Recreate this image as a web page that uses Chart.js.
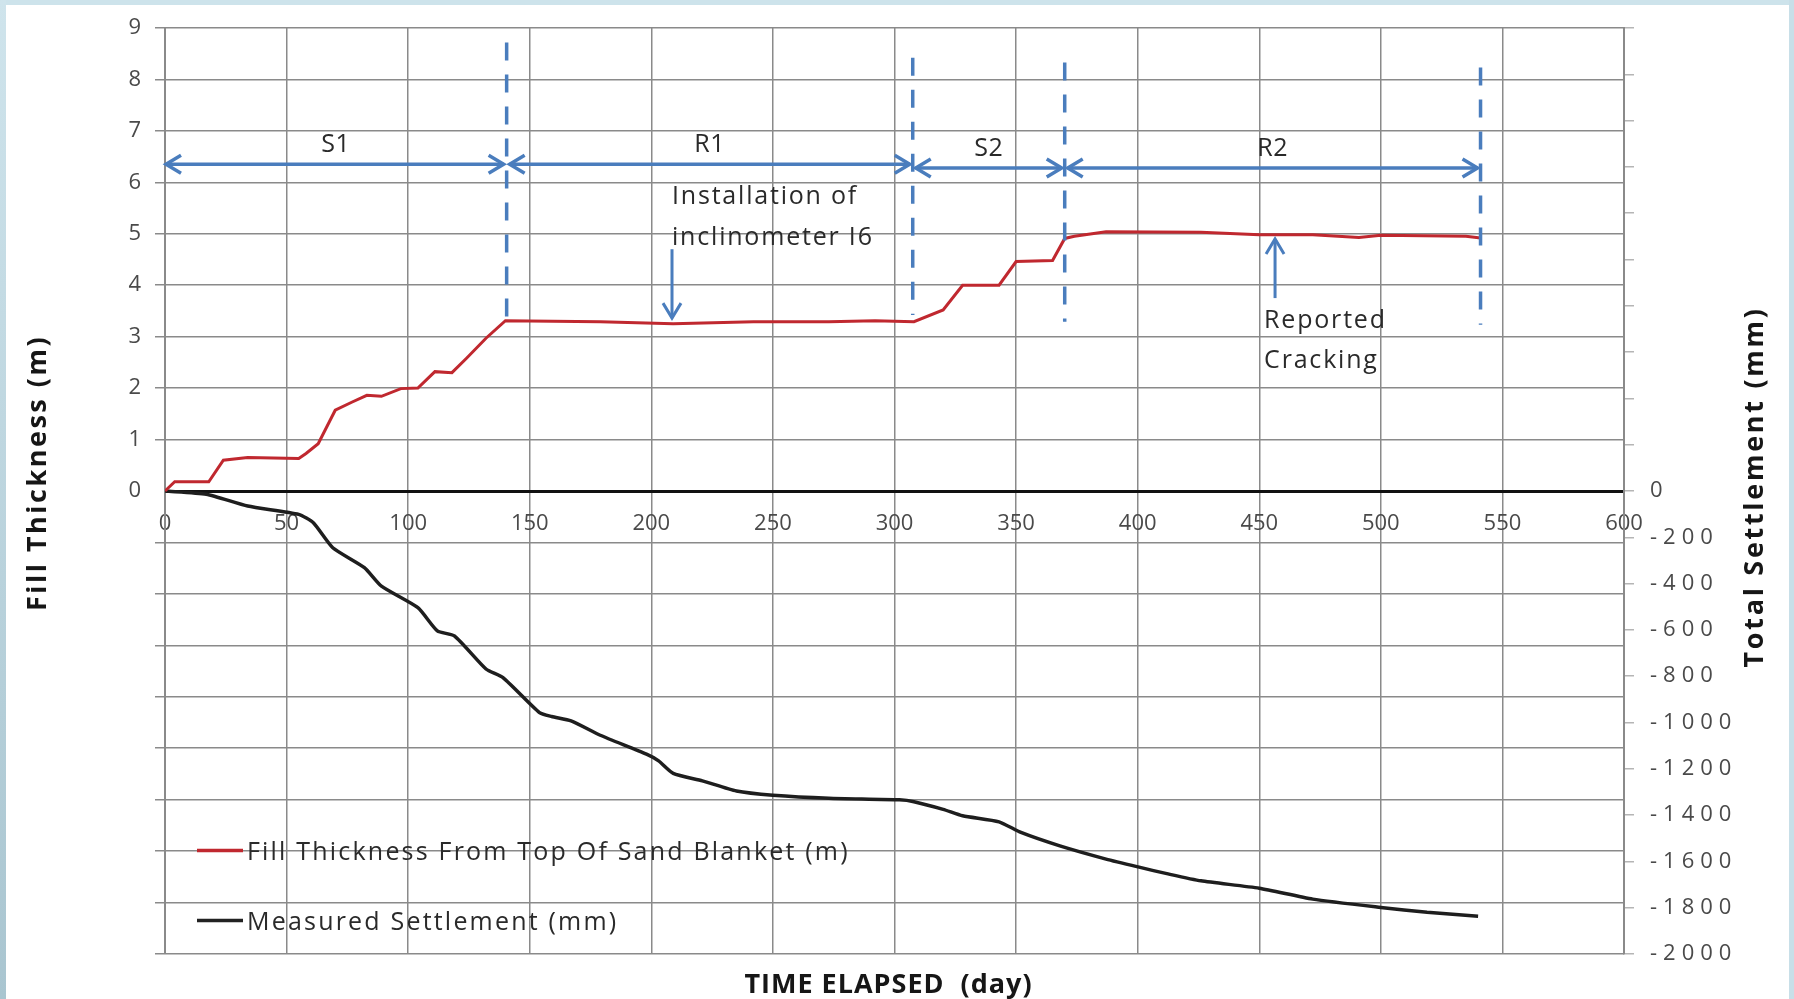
<!DOCTYPE html>
<html>
<head>
<meta charset="utf-8">
<title>Fill thickness and settlement vs time</title>
<script src="https://cdn.jsdelivr.net/npm/chart.js@4.4.1/dist/chart.umd.min.js"></script>
<style>
  html, body { margin: 0; padding: 0; background: #ffffff; }
  canvas { display: block; }
</style>
</head>
<body>
<canvas id="chart" width="1794" height="999"></canvas>
<script>
// Fill thickness above the sand blanket (m) against elapsed day
const fillDays = [0, 4, 18, 24, 34, 55, 58, 63, 70, 77, 83, 89, 97, 104, 111, 118, 124, 132, 140, 179,
                  209, 242, 273, 292, 308, 320, 328, 343, 350, 365, 370, 374, 387, 426, 450, 472, 491, 500, 535, 541];
const fillThickness = [0, 0.18, 0.18, 0.6, 0.65, 0.63, 0.73, 0.92, 1.57, 1.73, 1.86, 1.84, 1.99, 2.0, 2.32, 2.3, 2.58, 2.97, 3.31, 3.29,
                       3.25, 3.29, 3.29, 3.31, 3.29, 3.52, 4.0, 4.0, 4.46, 4.48, 4.91, 4.95, 5.04, 5.03, 4.98, 4.98, 4.93, 4.97, 4.95, 4.92];

// Measured settlement (mm) against elapsed day
const settleDays = [0, 17, 34, 55, 61, 69, 82, 89, 104, 112, 119, 132, 139, 154, 159, 167, 179, 198, 203, 209,
                    221, 235, 250, 273, 302, 308, 320, 328, 343, 352, 368, 387, 401, 412, 426, 450, 472, 500, 519, 540];
const settlement = [0, -14, -65, -101, -137, -245, -331, -411, -504, -604, -626, -769, -806, -957, -974, -993, -1055, -1137, -1166, -1220,
                    -1252, -1296, -1314, -1327, -1334, -1342, -1375, -1403, -1429, -1475, -1533, -1590, -1626, -1653, -1684, -1716, -1763, -1799, -1820, -1837];

// Construction stages: boundaries in days and stage names
const stageBounds = [0, 140.5, 307.5, 370, 541];
const stageNames = ['S1', 'R1', 'S2', 'R2'];

// Events marked on the fill curve
const installDay = 208.5;
const installText = ['Installation of', 'inclinometer I6'];
const crackDay = 456.5;
const crackText = ['Reported', 'Cracking'];

const seriesNames = ['Fill Thickness From Top Of Sand Blanket (m)', 'Measured Settlement (mm)'];
const axisTitles = { x: 'TIME ELAPSED  (day)', left: 'Fill Thickness (m)', right: 'Total Settlement (mm)' };

const FONT = "'Open Sans', 'DejaVu Sans', sans-serif";
const BLUE = '#4a7dbd';
const RED = '#c0282f';
const GRID = '#8a8a8a';
const INK = '#2a2a2a';
const NOTE_FONT = '25px ' + FONT;

function toPoints(xs, ys) { return xs.map((d, i) => ({ x: d, y: ys[i] })); }

function drawText(ctx, s, x, y, opts) {
  ctx.save();
  ctx.font = opts.font;
  ctx.fillStyle = opts.color || INK;
  ctx.textAlign = opts.align || 'left';
  ctx.textBaseline = opts.baseline || 'alphabetic';
  ctx.letterSpacing = (opts.spacing || 0) + 'px';
  if (opts.rotate) {
    ctx.translate(x, y);
    ctx.rotate(opts.rotate);
    ctx.fillText(s, 0, 0);
  } else {
    ctx.fillText(s, x, y);
  }
  ctx.restore();
}

function arrowHead(ctx, tx, ty, dx, dy) {
  const L = 15, W = 9;
  ctx.beginPath();
  ctx.moveTo(tx - dx * L - dy * W, ty - dy * L + dx * W);
  ctx.lineTo(tx, ty);
  ctx.lineTo(tx - dx * L + dy * W, ty - dy * L - dx * W);
  ctx.stroke();
}

const decor = {
  id: 'decor',
  beforeDraw(chart) {
    const ctx = chart.ctx;
    const W = chart.width, H = chart.height;
    ctx.save();
    ctx.fillStyle = '#ffffff';
    ctx.fillRect(0, 0, W, H);
    // frame bands round the sheet
    ctx.fillStyle = '#cde3eb';
    ctx.fillRect(0, 0, W, 5);
    const g = ctx.createLinearGradient(0, 0, 0, H);
    g.addColorStop(0, '#cfe4ec');
    g.addColorStop(1, '#a9c5d0');
    ctx.fillStyle = g;
    ctx.fillRect(0, 0, 6, H);
    ctx.fillStyle = '#c8dfe8';
    ctx.fillRect(W - 5, 0, 5, H);
    ctx.restore();
  },
  afterDatasetsDraw(chart) {
    const ctx = chart.ctx;
    const xs = chart.scales.x, ys = chart.scales.y, y2 = chart.scales.y2;
    const area = chart.chartArea;
    const px = d => xs.getPixelForValue(d);
    const py = v => ys.getPixelForValue(v);

    ctx.save();
    ctx.strokeStyle = BLUE;
    ctx.lineCap = 'butt';

    // stage boundaries
    const dashTop = [8.72, 8.42, 8.33, 8.23];
    const dashBottom = [3.36, 3.42, 3.29, 3.23];
    ctx.lineWidth = 3.5;
    ctx.setLineDash([18, 14]);
    for (let i = 1; i < stageBounds.length; i++) {
      const x = px(stageBounds[i]);
      ctx.beginPath();
      ctx.moveTo(x, py(dashTop[i - 1]));
      ctx.lineTo(x, py(dashBottom[i - 1]));
      ctx.stroke();
    }
    ctx.setLineDash([]);

    // stage spans with double arrows
    const spanLevel = [6.35, 6.35, 6.28, 6.28];
    ctx.lineWidth = 3.5;
    for (let i = 0; i < stageNames.length; i++) {
      const x1 = px(stageBounds[i]) + (i === 0 ? 1 : 3);
      const x2 = px(stageBounds[i + 1]) - 3;
      const y = py(spanLevel[i]);
      ctx.beginPath();
      ctx.moveTo(x1, y);
      ctx.lineTo(x2, y);
      ctx.stroke();
      arrowHead(ctx, x1, y, -1, 0);
      arrowHead(ctx, x2, y, 1, 0);
      const mid = px((stageBounds[i] + stageBounds[i + 1]) / 2);
      drawText(ctx, stageNames[i], mid, py(spanLevel[i] + 0.38), { font: NOTE_FONT, align: 'center', baseline: 'middle', spacing: 0.5 });
    }

    // installation arrow (pointing down to the curve)
    ctx.lineWidth = 3;
    const ix = px(installDay);
    ctx.beginPath();
    ctx.moveTo(ix, py(4.70));
    ctx.lineTo(ix, py(3.36));
    ctx.stroke();
    arrowHead(ctx, ix, py(3.36), 0, 1);
    drawText(ctx, installText[0], ix, py(5.58), { font: NOTE_FONT, spacing: 1.8 });
    drawText(ctx, installText[1], ix, py(4.79), { font: NOTE_FONT, spacing: 1.8 });

    // cracking arrow (pointing up to the curve)
    const cx = px(crackDay);
    ctx.beginPath();
    ctx.moveTo(cx, py(3.75));
    ctx.lineTo(cx, py(4.90));
    ctx.stroke();
    arrowHead(ctx, cx, py(4.90), 0, -1);
    drawText(ctx, crackText[0], px(crackDay - 4.5), py(3.17), { font: NOTE_FONT, spacing: 1.8 });
    drawText(ctx, crackText[1], px(crackDay - 4.5), py(2.39), { font: NOTE_FONT, spacing: 1.8 });

    // legend inside the plot
    const legendRows = [
      { color: RED, level: -6.99, width: 3.5 },
      { color: '#222', level: -8.35, width: 3.5 }
    ];
    legendRows.forEach((r, i) => {
      const y = py(r.level);
      ctx.strokeStyle = r.color;
      ctx.lineWidth = r.width;
      ctx.beginPath();
      ctx.moveTo(area.left + 32, y);
      ctx.lineTo(area.left + 78, y);
      ctx.stroke();
      drawText(ctx, seriesNames[i], area.left + 82, y + 9, { font: NOTE_FONT, spacing: 2.2 });
    });

    // right axis labels (non-positive only)
    y2.ticks.forEach(t => {
      if (t.value > 0) return;
      drawText(ctx, String(t.value), area.right + 26, y2.getPixelForValue(t.value), { font: '22px ' + FONT, color: '#4a4a4a', baseline: 'middle', spacing: 6 });
    });

    // axis titles
    const cy = (area.top + area.bottom) / 2;
    drawText(ctx, axisTitles.x, (area.left + area.right) / 2 - 6, 993, { font: 'bold 27px ' + FONT, color: '#161616', align: 'center', spacing: 1 });
    drawText(ctx, axisTitles.left, 46, cy - 18, { font: 'bold 27px ' + FONT, color: '#161616', align: 'center', spacing: 2.5, rotate: -Math.PI / 2 });
    drawText(ctx, axisTitles.right, 1763, cy - 4, { font: 'bold 27px ' + FONT, color: '#161616', align: 'center', spacing: 2.7, rotate: -Math.PI / 2 });

    ctx.restore();
  }
};

new Chart(document.getElementById('chart'), {
  type: 'line',
  data: {
    datasets: [
      {
        label: seriesNames[0],
        data: toPoints(fillDays, fillThickness),
        yAxisID: 'y',
        borderColor: RED,
        borderWidth: 3,
        pointRadius: 0,
        tension: 0,
        fill: false
      },
      {
        label: seriesNames[1],
        data: toPoints(settleDays, settlement),
        yAxisID: 'y2',
        borderColor: '#1e1e1e',
        borderWidth: 3.5,
        pointRadius: 0,
        tension: 0.2,
        fill: false
      }
    ]
  },
  options: {
    responsive: false,
    animation: false,
    devicePixelRatio: 1,
    layout: { padding: { top: 28, bottom: 45, left: 0, right: 0 } },
    plugins: {
      legend: { display: false },
      tooltip: { enabled: false },
      title: { display: false }
    },
    scales: {
      x: {
        type: 'linear',
        min: 0,
        max: 600,
        position: { y: 0 },
        z: 1,
        ticks: {
          stepSize: 50,
          padding: 20,
          maxRotation: 0,
          color: '#4a4a4a',
          font: { family: FONT, size: 22 }
        },
        grid: { color: GRID, lineWidth: 1.5, drawTicks: false },
        border: { color: '#111', width: 3 }
      },
      y: {
        type: 'linear',
        position: 'left',
        min: -9,
        max: 9,
        afterFit(s) { s.width = 165; },
        ticks: {
          stepSize: 1,
          padding: 14,
          color: '#4a4a4a',
          font: { family: FONT, size: 22 },
          callback: v => (v >= 0 ? v : '')
        },
        grid: {
          color: c => (c.tick && c.tick.value === 0 ? 'rgba(0,0,0,0)' : GRID),
          lineWidth: 1.5,
          tickLength: 10
        },
        border: { color: GRID, width: 2 }
      },
      y2: {
        type: 'linear',
        position: 'right',
        min: -2000,
        max: 2000,
        afterFit(s) { s.width = 170; },
        ticks: { stepSize: 200, display: false },
        grid: { drawOnChartArea: false, color: '#b5b5b5', lineWidth: 1.5, tickLength: 10 },
        border: { color: GRID, width: 2 }
      }
    }
  },
  plugins: [decor]
});
</script>
</body>
</html>
